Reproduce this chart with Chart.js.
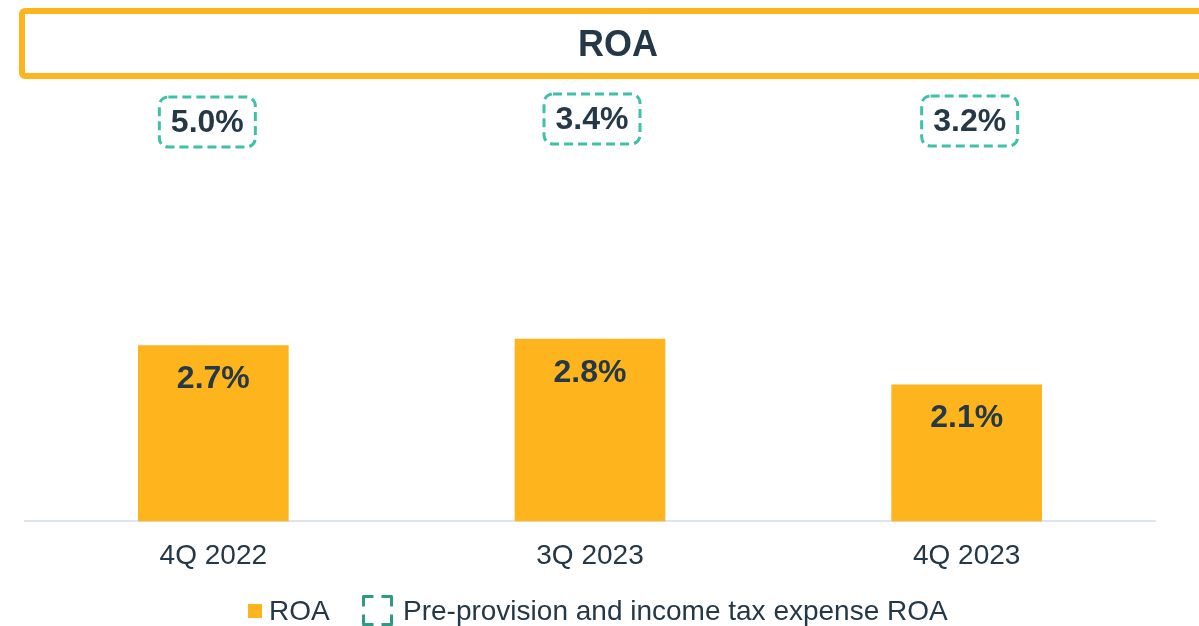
<!DOCTYPE html>
<html>
<head>
<meta charset="utf-8">
<script src="https://cdn.jsdelivr.net/npm/chart.js@4/dist/chart.umd.min.js"></script>
<style>
  html, body { margin: 0; padding: 0; background: #ffffff; }
  #wrap { width: 1199px; height: 626px; position: relative; }
</style>
</head>
<body>
<div id="wrap"><canvas id="c" width="1199" height="626"></canvas></div>
<script>
const titleText = "ROA";
const categories = ["4Q 2022", "3Q 2023", "4Q 2023"];
const roaValues = [2.7, 2.8, 2.1];
const preProvisionValues = [5.0, 3.4, 3.2];
const legendLabels = ["ROA", "Pre-provision and income tax expense ROA"];

const ORANGE = "#FEB41C";
const TEAL = "#3EC0A9";
const TEAL_DARK = "#2E9A82";
const NAVY = "#253847";
const FONT = "'Liberation Sans', Arial, Helvetica, sans-serif";

Chart.defaults.font.family = FONT;

function pct(v) { return v.toFixed(1) + "%"; }

function roundRectPath(ctx, x, y, w, h, r) {
  ctx.beginPath();
  ctx.moveTo(x + r, y);
  ctx.lineTo(x + w - r, y);
  ctx.arcTo(x + w, y, x + w, y + r, r);
  ctx.lineTo(x + w, y + h - r);
  ctx.arcTo(x + w, y + h, x + w - r, y + h, r);
  ctx.lineTo(x + r, y + h);
  ctx.arcTo(x, y + h, x, y + h - r, r);
  ctx.lineTo(x, y + r);
  ctx.arcTo(x, y, x + r, y, r);
  ctx.closePath();
}

const decor = {
  id: "decor",
  afterDraw(chart) {
    const ctx = chart.ctx;
    const xs = chart.scales.x;
    const meta = chart.getDatasetMeta(0);
    ctx.save();

    // Title box
    ctx.strokeStyle = ORANGE;
    ctx.lineWidth = 6;
    roundRectPath(ctx, 22, 11, 1192, 65, 3);
    ctx.stroke();
    ctx.fillStyle = NAVY;
    ctx.font = "bold 36px " + FONT;
    ctx.textAlign = "center";
    ctx.textBaseline = "middle";
    ctx.fillText(titleText, 618, 46);

    // Bar value labels
    ctx.font = "bold 32px " + FONT;
    meta.data.forEach((bar, i) => {
      ctx.fillText(pct(roaValues[i]), bar.x, bar.y + 34);
    });

    // Pre-provision dashed boxes (slight nudges as in the source layout)
    const nudgeX = [-6, 2, 3];
    const nudgeY = [0, -3, -1];
    preProvisionValues.forEach((v, i) => {
      const cx = xs.getPixelForValue(i) + nudgeX[i];
      const w = 96, h = 50, top = 97 + nudgeY[i];
      ctx.setLineDash([9, 5]);
      ctx.lineWidth = 3;
      ctx.strokeStyle = TEAL;
      roundRectPath(ctx, cx - w / 2, top, w, h, 9);
      ctx.stroke();
      ctx.setLineDash([]);
      ctx.fillStyle = NAVY;
      ctx.fillText(pct(v), cx, top + h / 2 + 1);
    });

    // Legend
    const ly = 611;
    ctx.fillStyle = ORANGE;
    ctx.fillRect(248, ly - 7, 14, 14);
    ctx.fillStyle = NAVY;
    ctx.font = "28px " + FONT;
    ctx.textAlign = "left";
    ctx.fillText(legendLabels[0], 269, ly + 1);

    // dashed legend icon (corner brackets)
    const ix = 363.5, iy = 596.5, s = 28, a = 10;
    ctx.strokeStyle = TEAL_DARK;
    ctx.lineWidth = 3;
    ctx.lineJoin = "round";
    ctx.beginPath();
    ctx.moveTo(ix, iy + a); ctx.lineTo(ix, iy); ctx.lineTo(ix + a, iy);
    ctx.moveTo(ix + s - a, iy); ctx.lineTo(ix + s, iy); ctx.lineTo(ix + s, iy + a);
    ctx.moveTo(ix + s, iy + s - a); ctx.lineTo(ix + s, iy + s); ctx.lineTo(ix + s - a, iy + s);
    ctx.moveTo(ix + a, iy + s); ctx.lineTo(ix, iy + s); ctx.lineTo(ix, iy + s - a);
    ctx.stroke();
    ctx.fillStyle = NAVY;
    ctx.fillText(legendLabels[1], 403, ly + 1);

    ctx.restore();
  }
};

new Chart(document.getElementById("c"), {
  type: "bar",
  data: {
    labels: categories,
    datasets: [{
      label: legendLabels[0],
      data: roaValues,
      backgroundColor: ORANGE,
      borderWidth: 0,
      barPercentage: 0.4,
      categoryPercentage: 1.0
    }]
  },
  options: {
    responsive: false,
    animation: false,
    devicePixelRatio: 1,
    layout: { padding: { left: 25, right: 44, top: 130, bottom: 35 } },
    plugins: {
      legend: { display: false },
      tooltip: { enabled: false },
      title: { display: false }
    },
    scales: {
      x: {
        grid: { display: false, drawTicks: false },
        border: { display: true, color: "#DCE4EC", width: 2 },
        ticks: { color: NAVY, font: { size: 28, family: FONT }, padding: 18 }
      },
      y: {
        display: false,
        min: 0,
        max: 6
      }
    }
  },
  plugins: [decor]
});
</script>
</body>
</html>
